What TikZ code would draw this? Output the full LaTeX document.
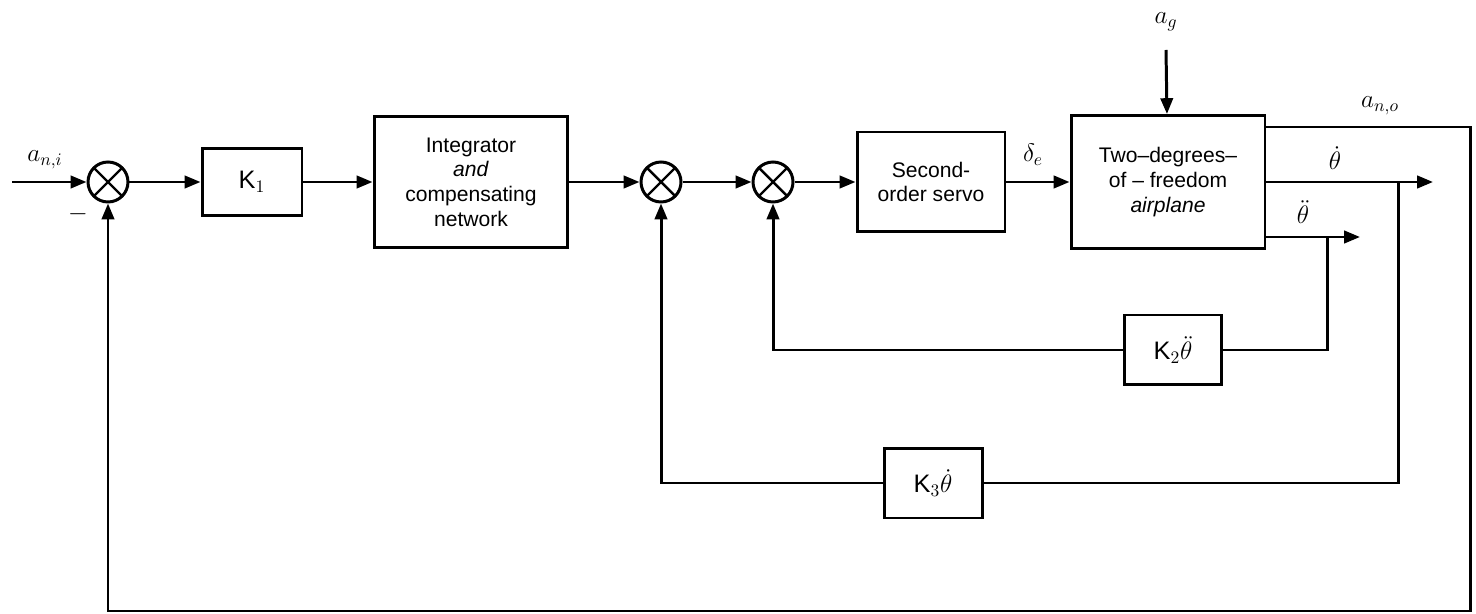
\documentclass[tikz,border=0pt]{standalone}
\usepackage{fontspec}
\setsansfont{Liberation Sans}
\usepackage{amsmath}
\usetikzlibrary{positioning,arrows.meta,calc}
\tikzset{
  blk/.style ={draw, line width=1.7pt, align=center, font=\sffamily\large, inner sep=2pt},
  sumj/.style={circle, draw, line width=1.7pt, minimum size=0.8cm, inner sep=0pt,
               path picture={\draw[line width=1.4pt]
                 (path picture bounding box.north west) -- (path picture bounding box.south east)
                 (path picture bounding box.south west) -- (path picture bounding box.north east);}},
  sig/.style ={line width=1.7pt},
  lbl/.style ={font=\Large, inner sep=1pt},
  >={Triangle[length=9pt,width=7pt]},
}

\begin{document}
\begin{tikzpicture}[x=0.02cm,y=-0.02cm]
\useasboundingbox (0,0) rectangle (1476,614);

% summing junctions
\node[sumj] (s1) at (108,182) {};
\node[sumj] (s2) at (661,182) {};
\node[sumj] (s3) at (773,182) {};

% blocks
\node[blk, minimum width=2cm, minimum height=1.34cm] (k1) at (252,182) {\Large K$_1$};
\node[blk, minimum width=3.88cm, minimum height=2.64cm] (integ) at (471,182)
  {Integrator\\\textit{and}\\compensating\\network};
\node[blk, minimum width=2.96cm, minimum height=2cm] (servo) at (931,182)
  {Second-\\order servo};
\node[blk, minimum width=3.88cm, minimum height=2.66cm] (air) at (1168,182)
  {Two--degrees--\\of -- freedom\\\textit{airplane}};
\node[blk, minimum width=1.94cm, minimum height=1.4cm] (k2) at (1173,350) {\Large K$_2\ddot{\theta}$};
\node[blk, minimum width=1.96cm, minimum height=1.4cm] (k3) at (933,483) {\Large K$_3\dot{\theta}$};

% free ends and corners
\coordinate (in) at (12,182);
\coordinate (ag) at (1166,50);
\coordinate (ro) at (1470,127);
\coordinate (rb) at (1470,611);
\coordinate (td) at (1433,182);
\coordinate (b3) at (1398,182);
\coordinate (tdd) at (1360,237);
\coordinate (b2) at (1327,237);

% labels
\node[lbl] (lin) at (45,160) {$a_{n,i}$};
\node[lbl] (lmin) at (78,214) {$-$};
\node[lbl] (lag) at (1166,22) {$a_g$};
\node[lbl] (lde) at (1033,155) {$\delta_e$};
\node[lbl] (lao) at (1380,106) {$a_{n,o}$};
\node[lbl] (ltd) at (1335,158) {$\dot{\theta}$};
\node[lbl] (ltdd) at (1303,212) {$\ddot{\theta}$};

% forward path
\draw[sig,->] (in) -- (s1);
\draw[sig,->] (s1) -- (k1);
\draw[sig,->] (k1) -- (integ);
\draw[sig,->] (integ) -- (s2);
\draw[sig,->] (s2) -- (s3);
\draw[sig,->] (s3) -- (servo);
\draw[sig,->] (servo) -- (air);
\draw[sig,->] (ag) -- (air);

% outputs
\draw[sig,->] (air.east) -- (td);
\draw[sig,->] (air.east |- tdd) -- (tdd);

% feedback loops
\draw[sig,->] (air.east |- ro) -- (ro) -- (rb) -- (s1 |- rb) -- (s1);
\draw[sig] (b3) -- (b3 |- k3) -- (k3);
\draw[sig,->] (k3) -- (s2 |- k3) -- (s2);
\draw[sig] (b2) -- (b2 |- k2) -- (k2);
\draw[sig,->] (k2) -- (s3 |- k2) -- (s3);
\end{tikzpicture}
\end{document}
